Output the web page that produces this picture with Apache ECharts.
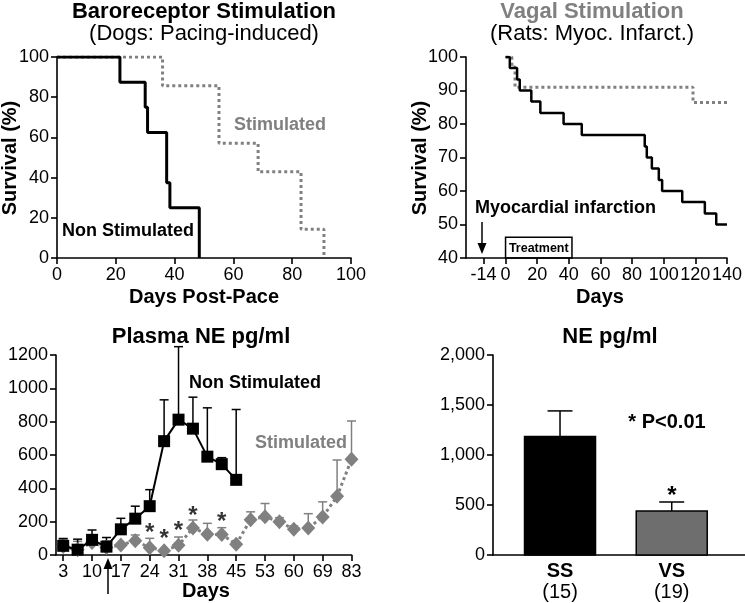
<!DOCTYPE html>
<html>
<head>
<meta charset="utf-8">
<script src="https://cdn.jsdelivr.net/npm/echarts@6/dist/echarts.min.js"></script>
<style>
html,body{margin:0;padding:0;background:#fff;}
#c{width:745px;height:603px;}
</style>
</head>
<body>
<div id="c"></div>
<script>
// ---------- DATA ----------
// Panel A: Baroreceptor stimulation (dogs) Kaplan-Meier
const baroNSDays = [0, 21.4, 30, 30.8, 37.3, 38.4, 48.4];
const baroNSSurv = [100, 87.5, 75, 62.5, 37.5, 25, 0];
const baroSDays  = [0, 35.9, 55.1, 68.4, 83, 90.8];
const baroSSurv  = [100, 85.7, 57.1, 42.9, 14.3, 0];

// Panel B: Vagal stimulation (rats) Kaplan-Meier
const vagalNSDays = [0, 2.7, 7.3, 9, 16.3, 22, 36.7, 48.2, 88, 89.3, 92.5, 96.9, 99, 111.7, 126, 133.2, 140];
const vagalNSSurv = [100, 96.7, 93.3, 90, 86.7, 83.3, 80, 76.7, 73.3, 70, 66.7, 63.3, 60, 56.7, 53.3, 50, 50];
const vagalSDays  = [0, 4, 6, 118.5, 140];
const vagalSSurv  = [100, 97, 91, 86.4, 86.4];
const vagalTicks  = [-14, 0, 20, 40, 60, 80, 100, 120, 140];
const treatmentDays = [0, 42];

// Panel C: Plasma NE time course
const neDays = ['3','6','10','13','17','20','24','27','31','34','38','41','45','49','53','56','60','64','69','76','83'];
const neTickDays = ['3','10','17','24','31','38','45','53','60','69','83'];
const neNSMean = [55, 32, 91, 50, 154, 218, 293, 683, 812, 758, 590, 545, 451];
const neNSErr  = [44, 63, 59, 55, 66, 75, 99, 248, 438, 189, 293, 39, 422];
const neSMean  = [51, 32, 75, 45, 60, 86, 44, 26, 58, 162, 124, 123, 65, 212, 230, 200, 154, 162, 228, 352, 574];
const neSErr   = [44, 50, 30, 40, 0, 34, 56, 0, 50, 48, 66, 41, 0, 47, 79, 24, 20, 86, 91, 218, 230];
const starIdx  = [6, 7, 8, 9, 11];
const starVal  = [166, 130, 180, 270, 234];

// Panel D: NE bar chart
const barGroups = ['SS', 'VS'];
const barN      = ['(15)', '(19)'];
const barMean   = [1184, 441];
const barErr    = [257, 89];

// ---------- STYLE ----------
const FONT = "'Liberation Sans', Arial, Helvetica, sans-serif";
const BLACK = '#000000';
const GREY = '#808080';
const AX_W = 1.6;

function axisCommon(extra) {
  return Object.assign({
    axisLine: { show: true, onZero: false, lineStyle: { color: BLACK, width: AX_W } },
    axisTick: { show: true, inside: false, length: 6, lineStyle: { color: BLACK, width: AX_W } },
    axisLabel: { color: BLACK, fontSize: 18, fontFamily: FONT, margin: 8 },
    splitLine: { show: false }
  }, extra);
}

function errRender(color, capW, lw) {
  return function (params, api) {
    const x = api.value(0), y = api.value(1), e = api.value(2);
    if (!e) return null;
    const p0 = api.coord([x, y]);
    const p1 = api.coord([x, y + e]);
    return {
      type: 'group',
      children: [
        { type: 'line', shape: { x1: p0[0], y1: p0[1], x2: p1[0], y2: p1[1] }, style: { stroke: color, lineWidth: lw } },
        { type: 'line', shape: { x1: p1[0] - capW / 2, y1: p1[1], x2: p1[0] + capW / 2, y2: p1[1] }, style: { stroke: color, lineWidth: lw } }
      ]
    };
  };
}

const zip = (a, b) => a.map((v, i) => [v, b[i]]);

const chart = echarts.init(document.getElementById('c'), null, { renderer: 'canvas' });

const option = {
  animation: false,
  backgroundColor: '#fff',
  textStyle: { fontFamily: FONT },
  grid: [
    { left: 57, top: 57, width: 294, height: 201 },
    { left: 466, top: 57, width: 265, height: 201 },
    { left: 56, top: 355, width: 295.5, height: 200 },
    { left: 493, top: 355, width: 252, height: 200 }
  ],
  xAxis: [
    axisCommon({ type: 'value', gridIndex: 0, min: 0, max: 100, interval: 20 }),
    axisCommon({
      type: 'value', gridIndex: 1, min: -25, max: 140,
      axisTick: { show: true, length: 6, customValues: vagalTicks, lineStyle: { color: BLACK, width: AX_W } },
      axisLabel: { color: BLACK, fontSize: 18, fontFamily: FONT, margin: 8, customValues: vagalTicks }
    }),
    axisCommon({
      type: 'value', gridIndex: 2, min: -0.5, max: neDays.length - 1,
      axisTick: { show: true, length: 6, customValues: neTickDays.map(d => neDays.indexOf(d)), lineStyle: { color: BLACK, width: AX_W } },
      axisLabel: {
        color: BLACK, fontSize: 18, fontFamily: FONT, margin: 8,
        customValues: neTickDays.map(d => neDays.indexOf(d)),
        formatter: v => neDays[Math.round(v)]
      }
    }),
    axisCommon({
      type: 'value', gridIndex: 3, min: -0.6, max: 1.656,
      axisTick: { show: false },
      axisLabel: {
        color: BLACK, fontFamily: FONT, margin: 6,
        customValues: [0, 1],
        formatter: v => '{g|' + barGroups[Math.round(v)] + '}\n{n|' + barN[Math.round(v)] + '}',
        rich: {
          g: { fontSize: 20, fontWeight: 'bold', fontFamily: FONT, color: BLACK, lineHeight: 20 },
          n: { fontSize: 20, fontFamily: FONT, color: BLACK, lineHeight: 22 }
        }
      }
    })
  ],
  yAxis: [
    axisCommon({ type: 'value', gridIndex: 0, min: 0, max: 100, interval: 20 }),
    axisCommon({ type: 'value', gridIndex: 1, min: 40, max: 100, interval: 10 }),
    axisCommon({
      type: 'value', gridIndex: 2, min: 0, max: 1200, interval: 200,
      axisLabel: { color: BLACK, fontSize: 18, fontFamily: FONT, margin: 8, formatter: v => String(v) }
    }),
    axisCommon({
      type: 'value', gridIndex: 3, min: 0, max: 2000, interval: 500,
      axisLabel: { color: BLACK, fontSize: 18, fontFamily: FONT, margin: 8, formatter: v => v.toLocaleString('en-US') }
    })
  ],
  series: [
    // Panel A
    { type: 'line', xAxisIndex: 0, yAxisIndex: 0, step: 'end', symbol: 'none', data: zip(baroSDays, baroSSurv),
      lineStyle: { color: GREY, width: 3, type: [3, 3] }, z: 2 },
    { type: 'line', xAxisIndex: 0, yAxisIndex: 0, step: 'end', symbol: 'none', data: zip(baroNSDays, baroNSSurv),
      lineStyle: { color: BLACK, width: 3 }, z: 3 },
    // Panel B
    { type: 'line', xAxisIndex: 1, yAxisIndex: 1, step: 'end', symbol: 'none', data: zip(vagalSDays, vagalSSurv),
      lineStyle: { color: GREY, width: 3, type: [3, 3] }, z: 2,
      markArea: {
        silent: true,
        itemStyle: { color: 'rgba(0,0,0,0)', borderColor: BLACK, borderWidth: 1.5 },
        label: { show: true, position: 'inside', formatter: 'Treatment', fontWeight: 'bold', fontSize: 12.5, fontFamily: FONT, color: BLACK, offset: [0, 1] },
        data: [[{ xAxis: treatmentDays[0], yAxis: 40 }, { xAxis: treatmentDays[1], yAxis: 46.2 }]]
      }
    },
    { type: 'line', xAxisIndex: 1, yAxisIndex: 1, step: 'end', symbol: 'none', data: zip(vagalNSDays, vagalNSSurv),
      lineStyle: { color: BLACK, width: 2.5 }, z: 3 },
    // Panel C error bars
    { type: 'custom', xAxisIndex: 2, yAxisIndex: 2, clip: false, z: 1,
      renderItem: errRender(GREY, 9, 1.5),
      data: neSMean.map((m, i) => [i, m, neSErr[i]]) },
    { type: 'custom', xAxisIndex: 2, yAxisIndex: 2, clip: false, z: 1,
      renderItem: errRender(BLACK, 9, 1.5),
      data: neNSMean.map((m, i) => [i, m, neNSErr[i]]) },
    // Panel C lines
    { type: 'line', xAxisIndex: 2, yAxisIndex: 2, data: neSMean.map((m, i) => [i, m]),
      symbol: 'diamond', symbolSize: [14, 15], itemStyle: { color: GREY },
      lineStyle: { color: GREY, width: 3, type: [3, 3] }, z: 3 },
    { type: 'line', xAxisIndex: 2, yAxisIndex: 2, data: neNSMean.map((m, i) => [i, m]),
      symbol: 'rect', symbolSize: 12, itemStyle: { color: BLACK },
      lineStyle: { color: BLACK, width: 2 }, z: 4 },
    // significance stars
    { type: 'scatter', xAxisIndex: 2, yAxisIndex: 2, symbolSize: 1, itemStyle: { color: 'rgba(0,0,0,0)' },
      data: starIdx.map((ix, i) => [ix, starVal[i]]),
      label: { show: true, position: 'inside', formatter: '*', fontSize: 24, fontWeight: 'bold', fontFamily: FONT, color: BLACK, offset: [0, 6] }, z: 5 },
    // Panel D bars
    { type: 'custom', xAxisIndex: 3, yAxisIndex: 3, z: 2,
      renderItem: function (params, api) {
        const x = api.value(0), y = api.value(1);
        const p = api.coord([x, y]);
        const b = api.coord([x, 0]);
        const w = 71;
        return { type: 'rect', shape: { x: p[0] - w / 2, y: p[1], width: w, height: b[1] - p[1] },
          style: { fill: params.dataIndex === 0 ? '#000000' : '#6e6e6e', stroke: BLACK, lineWidth: 1.5 } };
      },
      data: barMean.map((m, i) => [i, m]) },
    { type: 'custom', xAxisIndex: 3, yAxisIndex: 3, z: 1, clip: false,
      renderItem: errRender(BLACK, 25, 1.5),
      data: barMean.map((m, i) => [i, m, barErr[i]]) }
  ],
  graphic: [
    // Panel A texts
    { type: 'text', x: 204, y: 12, style: { text: 'Baroreceptor Stimulation', font: 'bold 22px ' + FONT, fill: BLACK, align: 'center', verticalAlign: 'middle' } },
    { type: 'text', x: 204, y: 34, style: { text: '(Dogs: Pacing-induced)', font: '22px ' + FONT, fill: BLACK, align: 'center', verticalAlign: 'middle' } },
    { type: 'text', x: 10, y: 158, rotation: Math.PI / 2, style: { text: 'Survival (%)', font: 'bold 20px ' + FONT, fill: BLACK, align: 'center', verticalAlign: 'middle' } },
    { type: 'text', x: 204, y: 297, style: { text: 'Days Post-Pace', font: 'bold 20px ' + FONT, fill: BLACK, align: 'center', verticalAlign: 'middle' } },
    { type: 'text', x: 128, y: 231, style: { text: 'Non Stimulated', font: 'bold 18px ' + FONT, fill: BLACK, align: 'center', verticalAlign: 'middle' } },
    { type: 'text', x: 280, y: 125, style: { text: 'Stimulated', font: 'bold 18px ' + FONT, fill: GREY, align: 'center', verticalAlign: 'middle' } },
    // Panel B texts
    { type: 'text', x: 592, y: 12, style: { text: 'Vagal Stimulation', font: 'bold 22px ' + FONT, fill: GREY, align: 'center', verticalAlign: 'middle' } },
    { type: 'text', x: 592, y: 34, style: { text: '(Rats: Myoc. Infarct.)', font: '22px ' + FONT, fill: BLACK, align: 'center', verticalAlign: 'middle' } },
    { type: 'text', x: 420, y: 158, rotation: Math.PI / 2, style: { text: 'Survival (%)', font: 'bold 20px ' + FONT, fill: BLACK, align: 'center', verticalAlign: 'middle' } },
    { type: 'text', x: 600, y: 297, style: { text: 'Days', font: 'bold 20px ' + FONT, fill: BLACK, align: 'center', verticalAlign: 'middle' } },
    { type: 'text', x: 475, y: 208, style: { text: 'Myocardial infarction', font: 'bold 18px ' + FONT, fill: BLACK, align: 'left', verticalAlign: 'middle' } },
    { type: 'line', shape: { x1: 482, y1: 222, x2: 482, y2: 246 }, style: { stroke: BLACK, lineWidth: 1.5 } },
    { type: 'polygon', shape: { points: [[477.5, 243], [486.5, 243], [482, 254]] }, style: { fill: BLACK } },
    // Panel C texts
    { type: 'text', x: 201, y: 337, style: { text: 'Plasma NE pg/ml', font: 'bold 22px ' + FONT, fill: BLACK, align: 'center', verticalAlign: 'middle' } },
    { type: 'text', x: 255, y: 383, style: { text: 'Non Stimulated', font: 'bold 18px ' + FONT, fill: BLACK, align: 'center', verticalAlign: 'middle' } },
    { type: 'text', x: 301, y: 443, style: { text: 'Stimulated', font: 'bold 18px ' + FONT, fill: GREY, align: 'center', verticalAlign: 'middle' } },
    { type: 'text', x: 206, y: 591, style: { text: 'Days', font: 'bold 20px ' + FONT, fill: BLACK, align: 'center', verticalAlign: 'middle' } },
    { type: 'line', shape: { x1: 108, y1: 594, x2: 108, y2: 567 }, style: { stroke: BLACK, lineWidth: 1.5 } },
    { type: 'polygon', shape: { points: [[103.5, 569], [112.5, 569], [108, 558]] }, style: { fill: BLACK } },
    // Panel D texts
    { type: 'text', x: 610, y: 337, style: { text: 'NE pg/ml', font: 'bold 22px ' + FONT, fill: BLACK, align: 'center', verticalAlign: 'middle' } },
    { type: 'text', x: 667, y: 422, style: { text: '* P<0.01', font: 'bold 20px ' + FONT, fill: BLACK, align: 'center', verticalAlign: 'middle' } },
    { type: 'text', x: 672, y: 496, style: { text: '*', font: 'bold 24px ' + FONT, fill: BLACK, align: 'center', verticalAlign: 'middle' } }
  ]
};

chart.setOption(option);
</script>
</body>
</html>
